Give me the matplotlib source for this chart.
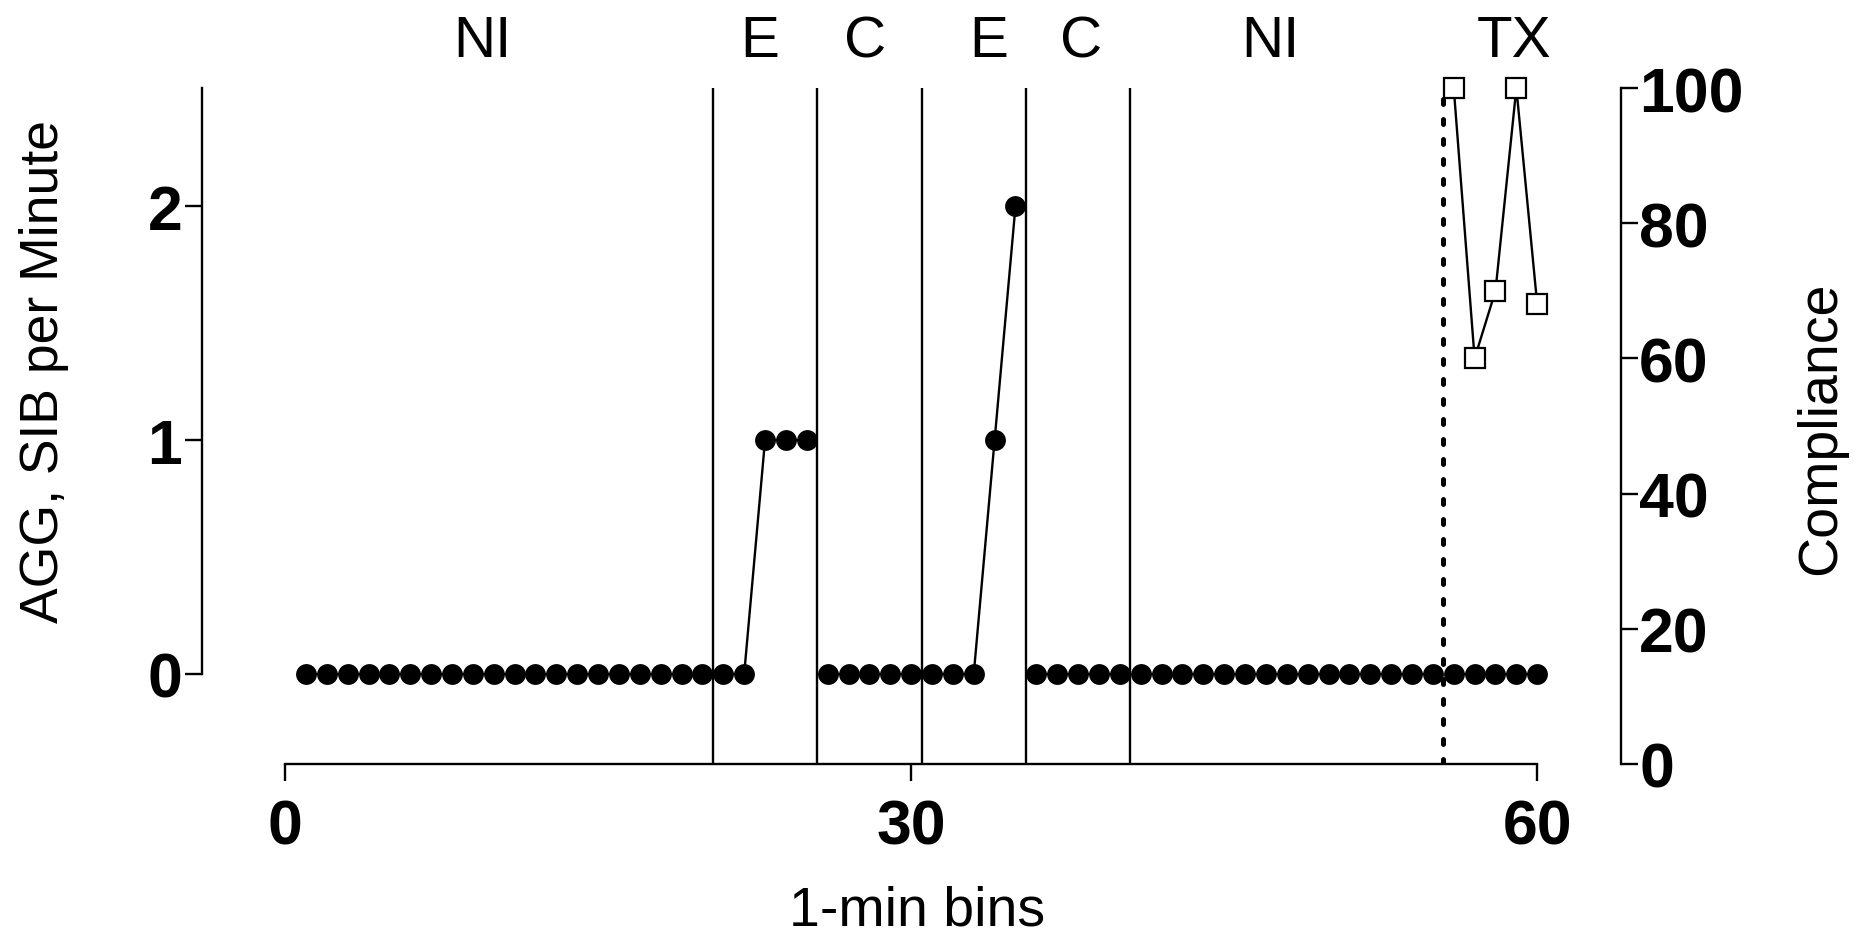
import matplotlib
matplotlib.use("Agg")
import matplotlib.pyplot as plt

# ---- data ----
minutes = list(range(1, 61))
agg_sib_rate = [0, 0, 0, 0, 0, 0, 0, 0, 0, 0,
                0, 0, 0, 0, 0, 0, 0, 0, 0, 0,
                0, 0, 1, 1, 1, 0, 0, 0, 0, 0,
                0, 0, 0, 1, 2, 0, 0, 0, 0, 0,
                0, 0, 0, 0, 0, 0, 0, 0, 0, 0,
                0, 0, 0, 0, 0, 0, 0, 0, 0, 0]
compliance_minutes = [56, 57, 58, 59, 60]
compliance = [100, 60, 70, 100, 68]

phase_breaks = [20.5, 25.5, 30.5, 35.5, 40.5]
tx_break = 55.5
phase_labels = ["NI", "E", "C", "E", "C", "NI", "TX"]
phase_label_x = [9.45, 22.75, 27.8, 33.7, 38.15, 47.2, 58.9]

x_ticks = [0, 30, 60]
left_ticks = [0, 1, 2]
right_ticks = [0, 20, 40, 60, 80, 100]

# ---- style ----
plt.rcParams['font.family'] = ['Liberation Sans', 'DejaVu Sans']
W, H = 1854, 937
fig = plt.figure(figsize=(W / 100, H / 100), dpi=100)
ax = fig.add_axes([202 / W, 1 - 765 / H, (1620.7 - 202) / W, (765 - 89) / H])
ax2 = ax.twinx()

lw = 1.7
tick_fs = 45
lab_fs = 40

# phase lines
for b in phase_breaks:
    ax.axvline(b, color='black', lw=lw, zorder=1)
ax.axvline(tx_break, color='black', lw=3.6, linestyle=(0, (1, 3)),
           dash_capstyle='round', zorder=1)

# AGG/SIB series, broken at phase changes
bounds = [0] + phase_breaks + [tx_break, 61]
for lo, hi in zip(bounds[:-1], bounds[1:]):
    xs = [m for m in minutes if lo < m < hi]
    ys = [agg_sib_rate[m - 1] for m in xs]
    ax.plot(xs, ys, color='black', lw=lw, marker='o', ms=15,
            mec='black', mew=0, mfc='black', zorder=3)

# compliance series
ax2.plot(compliance_minutes, compliance, color='black', lw=lw, marker='s',
         ms=14.5, mfc='white', mec='black', mew=1.6, zorder=4, clip_on=False)

ax.set_xlim(-3.98, 64.0)
ax.set_ylim(-0.385, 2.505)
ax2.set_ylim(0, 100)

for a in (ax, ax2):
    a.spines['top'].set_visible(False)
for s in ['left', 'bottom', 'right']:
    ax.spines[s].set_linewidth(lw)
    ax2.spines[s].set_linewidth(lw)
ax.spines['right'].set_visible(False)
ax2.spines['left'].set_visible(False)
ax2.spines['bottom'].set_visible(False)
ax.spines['bottom'].set_bounds(0, 60)
ax.spines['left'].set_bounds(0, 2.505)

ax.set_xticks(x_ticks)
ax.set_xticklabels([str(t) for t in x_ticks], fontsize=tick_fs, fontweight='bold')
ax.set_yticks(left_ticks)
ax.set_yticklabels([str(t) for t in left_ticks], fontsize=tick_fs, fontweight='bold')
ax2.set_yticks(right_ticks)
ax2.set_yticklabels([str(t) for t in right_ticks], fontsize=tick_fs, fontweight='bold')

ax.tick_params(axis='x', direction='out', length=12.2, width=lw, pad=12)
ax.tick_params(axis='y', direction='out', length=12.2, width=lw, pad=2)
ax2.tick_params(axis='y', direction='out', length=12.2, width=lw, pad=1)

ax2.set_zorder(ax.get_zorder() + 1)
ax2.patch.set_visible(False)

# phase labels
for lab, xp in zip(phase_labels, phase_label_x):
    ax.text(xp, 1.0473, lab, transform=ax.get_xaxis_transform(),
            ha='center', va='baseline', fontsize=42, clip_on=False)

# axis labels
fig.text(19 / W, 1 - 371.5 / H, "AGG, SIB per Minute", rotation=90,
         ha='left', va='center', fontsize=38.5)
fig.text(1795 / W, 1 - 428 / H, "Compliance", rotation=90,
         ha='left', va='center', fontsize=lab_fs)
fig.text(917 / W, 1 - 926 / H, "1-min bins", ha='center', va='baseline',
         fontsize=lab_fs)

fig.savefig("out.png", dpi=100)
